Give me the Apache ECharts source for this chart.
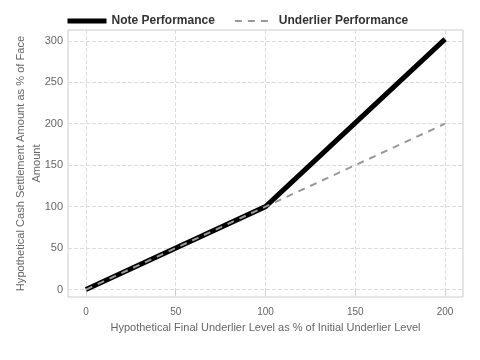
<!DOCTYPE html>
<html><head><meta charset="utf-8">
<script src="https://cdn.jsdelivr.net/npm/echarts@6/dist/echarts.min.js"></script>
<style>html,body{margin:0;padding:0;background:#fff}#c{width:480px;height:360px}</style>
</head><body><div id="c"></div>
<script>
const levels = [0, 100, 200];
const notePerformance = [0, 100, 302];
const underlierPerformance = [0, 100, 200];
const xTicks = [0, 50, 100, 150, 200];
const yTicks = [0, 50, 100, 150, 200, 250, 300];

const chart = echarts.init(document.getElementById('c'), null, {renderer: 'canvas'});
const font = 'Arial, "Liberation Sans", sans-serif';
chart.setOption({
  animation: false,
  backgroundColor: '#fff',
  legend: {
    top: 10, left: 60, itemWidth: 39, itemHeight: 12, itemGap: 19,
    itemStyle: {opacity: 0},
    textStyle: {fontFamily: font, fontSize: 12, fontWeight: 'bold', color: '#333'},
    data: [
      {name: 'Note Performance', lineStyle: {width: 5}},
      {name: 'Underlier Performance', lineStyle: {width: 2}}
    ]
  },
  grid: {left: 68, right: 17, top: 30, bottom: 63, show: true, borderColor: '#ccc', borderWidth: 1,
         outerBoundsMode: 'none', containLabel: false},
  xAxis: {
    type: 'value', min: -10, max: 210, interval: 50,
    name: 'Hypothetical Final Underlier Level as % of Initial Underlier Level',
    nameLocation: 'middle', nameGap: 25, nameMoveOverlap: false,
    nameTextStyle: {fontFamily: font, fontSize: 11, color: '#666'},
    axisLine: {show: false},
    axisTick: {show: true, length: 5, lineStyle: {color: '#ccc'}, customValues: xTicks},
    axisLabel: {fontFamily: font, fontSize: 10, color: '#666', margin: 10, customValues: xTicks},
    splitLine: {show: true, lineStyle: {color: '#ddd', type: 'dashed'}},
  },
  yAxis: {
    type: 'value', min: -9, max: 313,
    name: 'Hypothetical Cash Settlement Amount as % of Face\nAmount',
    nameLocation: 'middle', nameGap: 23, nameRotate: 90, nameMoveOverlap: false,
    nameTextStyle: {fontFamily: font, fontSize: 11.1, color: '#666', lineHeight: 16},
    axisLine: {show: false},
    axisTick: {show: false, customValues: yTicks},
    axisLabel: {fontFamily: font, fontSize: 11, color: '#666', margin: 5, customValues: yTicks},
    splitLine: {show: true, lineStyle: {color: '#ddd', type: 'dashed'}},
  },
  series: [
    {name: 'Note Performance', type: 'line', symbol: 'none', z: 2,
     data: levels.map((x, i) => [x, notePerformance[i]]),
     lineStyle: {color: '#000', width: 5}, itemStyle: {color: '#000'}},
    {name: 'Underlier Performance', type: 'line', symbol: 'none', z: 3,
     data: levels.map((x, i) => [x, underlierPerformance[i]]),
     lineStyle: {color: '#999', width: 2, type: [7, 6]}, itemStyle: {color: '#999'}}
  ]
});
</script></body></html>
